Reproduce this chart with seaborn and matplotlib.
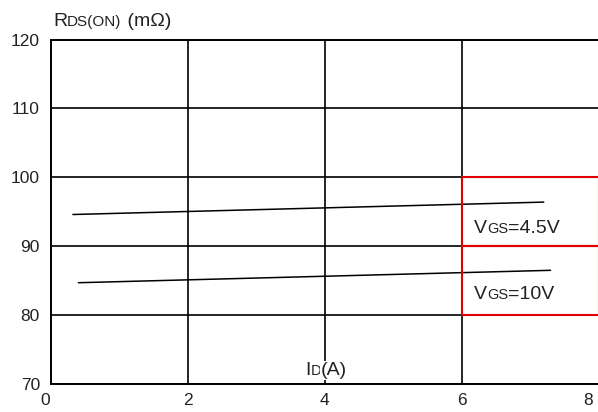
import pandas as pd
import numpy as np
import matplotlib.pyplot as plt
import seaborn as sns
from matplotlib.patches import Rectangle

# RDS(ON) vs ID
id_45v = [0.32, 7.2]
rds_45v = [94.6, 96.4]
id_10v = [0.40, 7.3]
rds_10v = [84.7, 86.5]
series = ["VGS=4.5V", "VGS=10V"]

x_ticks = [0, 2, 4, 6, 8]
y_ticks = [70, 80, 90, 100, 110, 120]

# red label boxes (x range, y range)
box_x = (6, 8)
box_y = [(90, 100), (80, 90)]

sns.set_style("white")
plt.rcParams["font.family"] = ["Liberation Sans", "DejaVu Sans"]
txt = "#222222"

data = pd.DataFrame({
    "ID": id_45v + id_10v,
    "RDS": rds_45v + rds_10v,
    "VGS": [series[0]] * 2 + [series[1]] * 2,
})

fig = plt.figure(figsize=(5.98, 4.12), dpi=100)
ax = fig.add_axes([51 / 598, 28 / 412, 547.5 / 598, 344.5 / 412])

sns.lineplot(data=data, x="ID", y="RDS", hue="VGS", palette=["black", "black"],
             linewidth=1.1, legend=False, ax=ax)

# end labels get trailing figure spaces so they sit left of their tick,
# inside the picture like in the reference
xlabels = [str(t) for t in x_ticks]
xlabels[0] += "\u2007"
xlabels[-1] += "\u2007\u2007"

ax.set_xlim(x_ticks[0], x_ticks[-1])
ax.set_ylim(y_ticks[0], y_ticks[-1])
ax.set_xticks(x_ticks, labels=xlabels)
ax.set_yticks(y_ticks, labels=[str(t) for t in y_ticks])
ax.tick_params(length=0, labelsize=12.5, labelcolor=txt)
ax.tick_params(axis="x", pad=6.5)
ax.tick_params(axis="y", pad=8)
ax.set_xlabel("")
ax.set_ylabel("")
ax.grid(True, color="black", linewidth=1.2)
for s in ["left", "bottom", "top"]:
    ax.spines[s].set_color("black")
    ax.spines[s].set_linewidth(1.4)
ax.spines["right"].set_visible(False)

for lo, hi in box_y:
    ax.add_patch(Rectangle((box_x[0], lo), box_x[1] - box_x[0], hi - lo,
                           fill=False, edgecolor="#e00000", linewidth=1.5,
                           zorder=3, clip_on=False))


def mixed(parts, x, y, bg=False):
    # parts: list of (text, size); placed one after another on one baseline
    prev = None
    box = dict(fc="white", ec="none", pad=1) if bg else None
    for s, size in parts:
        if prev is None:
            prev = fig.text(x / 598, y / 412, s, fontsize=size, color=txt,
                            va="baseline", ha="left", bbox=box, zorder=5)
        else:
            prev = ax.annotate(s, xy=(1, y), xycoords=(prev, "figure pixels"),
                               fontsize=size, color=txt, va="baseline", ha="left",
                               annotation_clip=False, bbox=box, zorder=5)


mixed([("R", 14), ("DS(ON)", 11), (" (m\u03a9)", 14)], 53, 412 - 25.7)
mixed([("I", 14), ("D", 10.5), ("(A)", 14)], 305, 412 - 375, bg=True)
mixed([("V", 14), ("GS", 10.5), ("=4.5V", 14)], 474, 412 - 232.7)
mixed([("V", 14), ("GS", 10.5), ("=10V", 14)], 474, 412 - 299.3)

fig.savefig("out.png", dpi=100)
